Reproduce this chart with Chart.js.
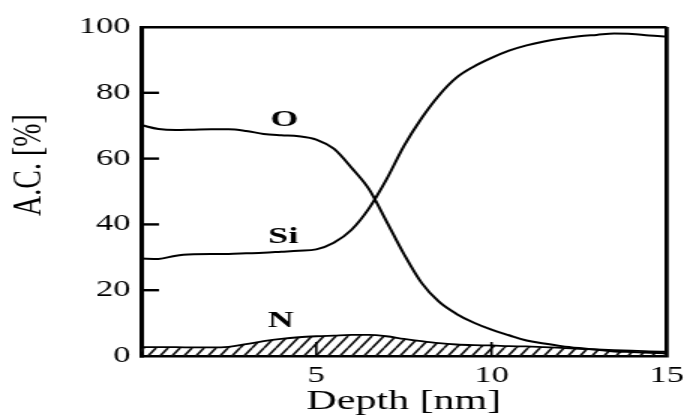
<!DOCTYPE html>
<html>
<head>
<meta charset="utf-8">
<title>A.C. depth profile</title>
<script src="https://cdn.jsdelivr.net/npm/chart.js@4.4.1/dist/chart.umd.min.js"></script>
<style>
  html, body { margin: 0; padding: 0; background: #fff; overflow: hidden; }
</style>
</head>
<body>
<!-- the scanned figure is stretched sideways: draw narrow, widen with css -->
<canvas id="profileChart" width="462" height="418" style="display:block;width:693px;height:418px"></canvas>
<script>
/* ─────────────────────────────────────────
   DATA
───────────────────────────────────────── */
const depth = [0, 0.5, 1, 1.5, 2, 2.5, 3, 3.5, 4, 4.5, 5, 5.5, 6, 6.5, 7, 7.5,
               8, 8.5, 9, 9.5, 10, 10.5, 11, 11.5, 12, 12.5, 13, 13.5, 14, 14.5, 15];

const oxygen   = [70.2, 69.0, 68.7, 68.8, 68.9, 68.9, 68.4, 67.5, 67.1, 66.8, 65.8, 63.0,
                  57.3, 50.8, 41.0, 31.0, 22.3, 16.5, 12.8, 10.1, 8.0, 6.3, 4.7, 3.8,
                  3.0, 2.4, 1.9, 1.4, 1.2, 1.0, 0.8];
const silicon  = [29.6, 29.5, 30.5, 30.9, 31.0, 31.0, 31.2, 31.4, 31.7, 32.0, 32.4, 34.4,
                  38.3, 44.8, 53.6, 63.8, 72.2, 79.2, 84.6, 88.0, 90.6, 92.8, 94.4, 95.6,
                  96.5, 97.2, 97.6, 98.0, 97.9, 97.4, 97.1];
const nitrogen = [2.7, 2.7, 2.7, 2.6, 2.6, 2.8, 3.6, 4.5, 5.2, 5.7, 6.0, 6.2,
                  6.4, 6.4, 6.0, 5.2, 4.5, 3.9, 3.5, 3.3, 3.2, 3.0, 2.9, 2.7,
                  2.5, 2.2, 2.0, 1.8, 1.6, 1.4, 1.3];

const seriesNames = ['O', 'Si', 'N'];
const xTickValues = [0, 5, 10, 15];
const xTickLabels = ['', '5', '10', '15'];
const yTickValues = [0, 20, 40, 60, 80, 100];
const yTickLabels = ['0', '20', '40', '60', '80', '100'];

const SERIF = '"Liberation Serif", "Times New Roman", serif';

function points(values) {
  return depth.map((d, i) => ({ x: d, y: values[i] }));
}

/* hatch fill for the N area */
function makeHatch(ctx) {
  const tile = document.createElement('canvas');
  tile.width = 8;
  tile.height = 12;
  const c = tile.getContext('2d');
  c.strokeStyle = '#111';
  c.lineWidth = 1.7;
  c.beginPath();
  for (let k = -1; k <= 1; k++) {
    c.moveTo(k * 8, 12);
    c.lineTo(k * 8 + 8, 0);
  }
  c.stroke();
  return ctx.createPattern(tile, 'repeat');
}

/* ─────────────────────────────────────────
   PLUGINS: inward ticks, curve tags, y title
───────────────────────────────────────── */
const innerTicks = {
  id: 'innerTicks',
  afterDatasetsDraw(chart) {
    const { ctx, chartArea: a, scales: { x, y } } = chart;
    ctx.save();
    ctx.strokeStyle = '#000';
    ctx.lineWidth = 2.4;
    yTickValues.filter(v => v > y.min && v < y.max).forEach(v => {
      const py = y.getPixelForValue(v);
      ctx.beginPath();
      ctx.moveTo(a.left, py);
      ctx.lineTo(a.left + 12, py);
      ctx.stroke();
    });
    ctx.lineWidth = 1.6;
    xTickValues.filter(v => v > x.min && v < x.max).forEach(v => {
      const px = x.getPixelForValue(v);
      ctx.beginPath();
      ctx.moveTo(px, a.bottom);
      ctx.lineTo(px, a.bottom - 14);
      ctx.stroke();
    });
    ctx.restore();
  }
};

const curveTags = {
  id: 'curveTags',
  afterDatasetsDraw(chart, args, opts) {
    const { ctx, scales: { x, y } } = chart;
    ctx.save();
    ctx.fillStyle = '#000';
    ctx.font = 'bold 24px ' + SERIF;
    ctx.textAlign = 'center';
    ctx.textBaseline = 'middle';
    opts.items.forEach(t => {
      ctx.fillText(t.text, x.getPixelForValue(t.at[0]), y.getPixelForValue(t.at[1]));
    });
    ctx.restore();
  }
};

const yTitle = {
  id: 'yTitle',
  afterDraw(chart, args, opts) {
    const { ctx } = chart;
    ctx.save();
    ctx.translate(opts.x, opts.y);
    ctx.rotate(-Math.PI / 2);
    ctx.fillStyle = '#000';
    ctx.font = '28px ' + SERIF;
    ctx.textAlign = 'center';
    ctx.textBaseline = 'middle';
    ctx.fillText(opts.text, 0, 0);
    ctx.restore();
  }
};

/* ─────────────────────────────────────────
   CHART
───────────────────────────────────────── */
const canvas = document.getElementById('profileChart');
const ctx = canvas.getContext('2d');

const lineStyle = {
  borderColor: '#000',
  borderWidth: 2,
  pointRadius: 0,
  fill: false,
  cubicInterpolationMode: 'monotone'
};

new Chart(ctx, {
  type: 'line',
  data: {
    datasets: [
      Object.assign({ label: seriesNames[0], data: points(oxygen) }, lineStyle),
      Object.assign({ label: seriesNames[1], data: points(silicon) }, lineStyle),
      Object.assign({}, lineStyle, {
        label: seriesNames[2],
        data: points(nitrogen),
        fill: 'origin',
        backgroundColor: makeHatch(ctx),
        borderWidth: 1.8
      })
    ]
  },
  options: {
    responsive: false,
    animation: false,
    layout: { padding: { top: 27, right: 13, bottom: 0, left: 0 } },
    plugins: {
      legend: { display: false },
      tooltip: { enabled: false },
      curveTags: {
        items: [
          { text: seriesNames[0], at: [4.09, 71.7] },
          { text: seriesNames[1], at: [4.06, 36.3] },
          { text: seriesNames[2], at: [3.99, 10.7] }
        ]
      },
      yTitle: { text: 'A.C. [%]', x: 19.5, y: 165 }
    },
    scales: {
      x: {
        type: 'linear',
        min: 0,
        max: 15,
        afterBuildTicks: s => { s.ticks = xTickValues.map(v => ({ value: v })); },
        afterFit: s => { s.height = 62; },
        border: { display: true, color: '#000', width: 2.6 },
        grid: {
          drawTicks: false,
          color: c => (c.tick && c.tick.value === 15 ? '#000' : 'rgba(0,0,0,0)'),
          lineWidth: 2.8
        },
        ticks: {
          color: '#000',
          padding: 6,
          maxRotation: 0,
          font: { family: SERIF, size: 23 },
          callback: (v, i) => xTickLabels[i]
        },
        title: {
          display: true,
          text: 'Depth [nm]',
          color: '#000',
          padding: { top: 0, bottom: 0 },
          font: { family: SERIF, size: 28 }
        }
      },
      y: {
        min: 0,
        max: 100,
        afterBuildTicks: s => { s.ticks = yTickValues.map(v => ({ value: v })); },
        afterFit: s => { s.width = 94; },
        border: { display: true, color: '#000', width: 3 },
        grid: {
          drawTicks: false,
          color: c => (c.tick && c.tick.value === 100 ? '#000' : 'rgba(0,0,0,0)'),
          lineWidth: 2.4
        },
        ticks: {
          color: '#000',
          padding: 7,
          font: { family: SERIF, size: 23 },
          callback: (v, i) => yTickLabels[i]
        }
      }
    }
  },
  plugins: [innerTicks, curveTags, yTitle]
});

// keep the sideways stretch even if the library resets the inline size
canvas.style.width = '693px';
canvas.style.height = '418px';
</script>
</body>
</html>
